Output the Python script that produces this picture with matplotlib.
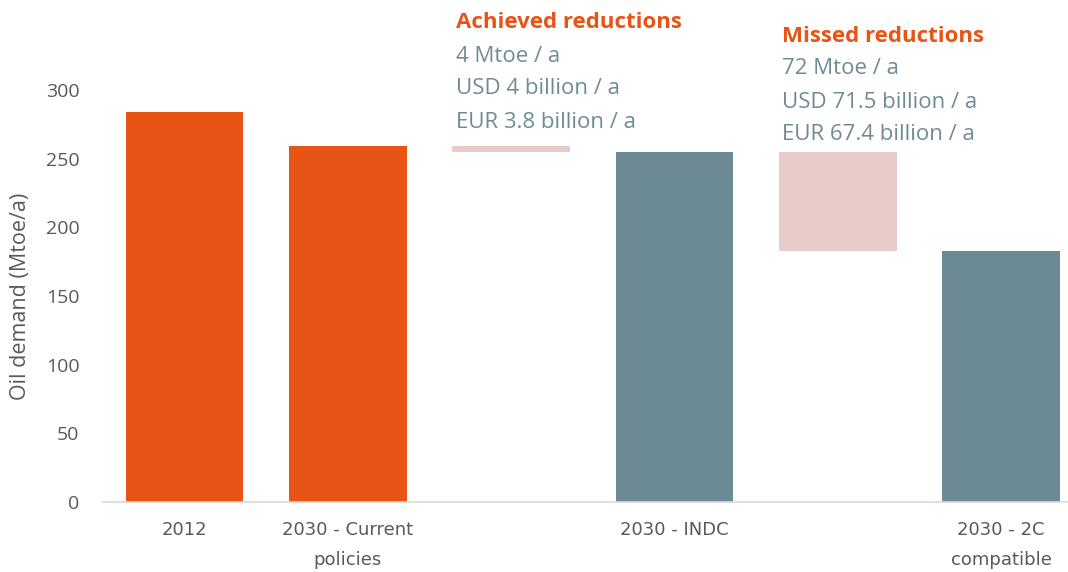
import matplotlib
matplotlib.use("Agg")
import matplotlib.pyplot as plt
import numpy as np

# Data
categories = ["2012", "2030 - Current\npolicies", "", "2030 - INDC", "", "2030 - 2C\ncompatible"]
demand = [284, 259, None, 255, None, 183]   # Mtoe/a
achieved = 4       # Mtoe/a, between current policies and INDC
missed = 72        # Mtoe/a, between INDC and 2C
achieved_text = ["4 Mtoe / a", "USD 4 billion / a", "EUR 3.8 billion / a"]
missed_text = ["72 Mtoe / a", "USD 71.5 billion / a", "EUR 67.4 billion / a"]
yticks = [0, 50, 100, 150, 200, 250, 300]

ORANGE = "#E85316"
TEAL = "#6C8A93"
PINK = "#E8CAC8"
LABEL = "#595959"

fig = plt.figure(figsize=(10.68, 5.72), dpi=100)
ax = fig.add_axes([103 / 1068, 0.1224, 965 / 1068, 0.8404])

x = np.arange(len(categories))
w = 0.72
colors = [ORANGE, ORANGE, None, TEAL, None, TEAL]
for i, v in enumerate(demand):
    if v is not None:
        ax.bar(x[i], v, width=w, color=colors[i])

# reduction bars
ax.bar(x[2], achieved, bottom=demand[3], width=w, color=PINK)
ax.bar(x[4], missed, bottom=demand[5], width=w, color=PINK)

ax.set_xlim(-0.5, -0.5 + 965 / 163.3)
ax.set_ylim(0, 350)
ax.set_yticks(yticks)
ax.set_xticks(x)
ax.set_xticklabels(categories)
for s in ["top", "right", "left"]:
    ax.spines[s].set_visible(False)
ax.spines["bottom"].set_color("#D9D9D9")
ax.spines["bottom"].set_linewidth(1.2)
ax.tick_params(axis="both", length=0, colors=LABEL)
ax.tick_params(axis="y", labelsize=14, pad=17)
ax.tick_params(axis="x", labelsize=13, pad=14)
for t in ax.get_xticklabels():
    t.set_family(["Liberation Sans Narrow", "DejaVu Sans"])
    t.set_linespacing(1.8)
for t in ax.get_yticklabels():
    t.set_family(["Open Sans", "DejaVu Sans"])
ax.set_ylabel("Oil demand (Mtoe/a)", fontsize=15.5, color=LABEL,
              family=["Open Sans", "DejaVu Sans"])
ax.yaxis.set_label_coords(-72 / 965, 0.427)

# annotations
def note(xpos, ytop_px, title, lines):
    y = 1 - ytop_px / 572
    fig.text(xpos, y, title, color=ORANGE, fontsize=16, fontweight="bold",
             family=["Open Sans", "DejaVu Sans"], va="center", ha="left")
    for k, line in enumerate(lines):
        fig.text(xpos, y - (k + 1) * 33 / 572, line, color="#6F8C95", fontsize=16,
                 family=["Open Sans", "DejaVu Sans"], va="center", ha="left")

note(456 / 1068, 23, "Achieved reductions", achieved_text)
note(782 / 1068, 36, "Missed reductions", missed_text)

fig.savefig("out.png", dpi=100)
